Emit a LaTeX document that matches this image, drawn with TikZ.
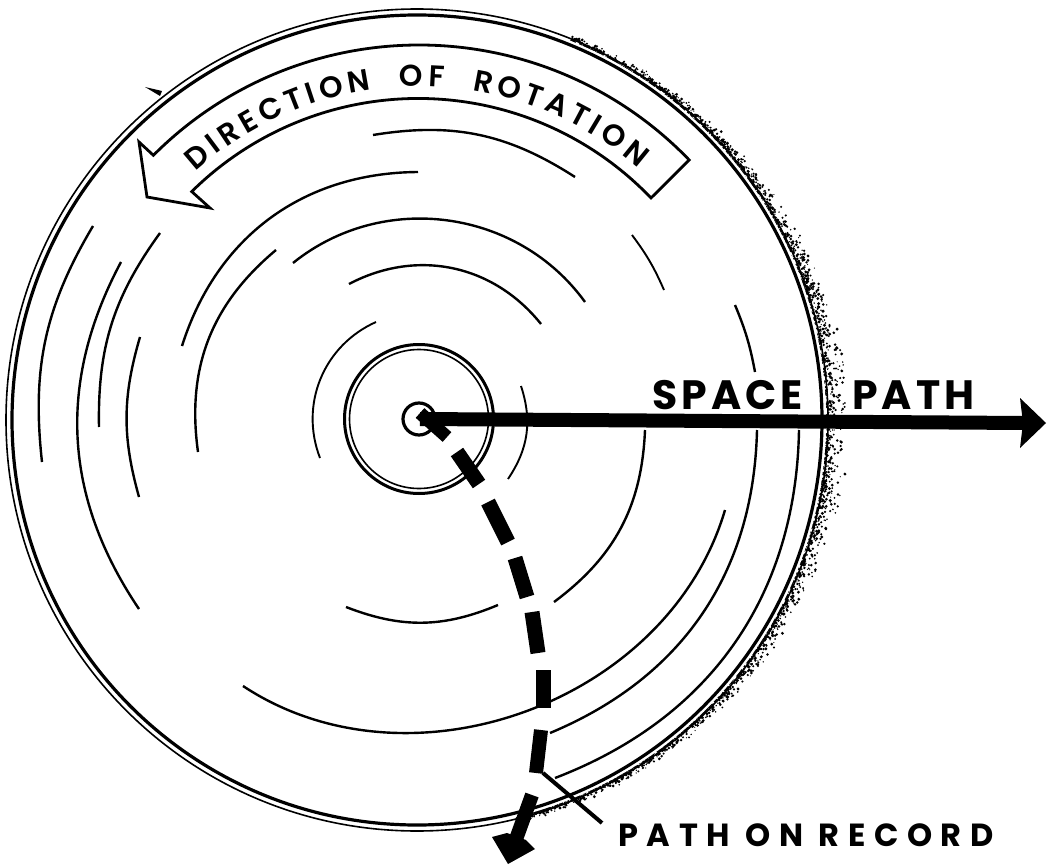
\documentclass[tikz,border=0pt]{standalone}
\usepackage{fontspec}
\setmainfont{Poppins}
\newfontfamily\bandfont{Poppins SemiBold}
\newfontfamily\capfont[LetterSpace=10]{Poppins}
\newfontfamily\recfont[LetterSpace=27]{Poppins}
\usetikzlibrary{decorations.text}
\tikzset{
  x=1pt,y=1pt,
  groove/.style={line width=2.4pt,black},
  grooveb/.style={line width=1.9pt,black},
  dashpiece/.style={line width=15pt,black},
  outline/.style={line width=3pt,black,line join=miter},
  label/.style={inner sep=0pt,anchor=base west,black},
}
\newcommand{\grv}[6][groove]{\draw[#1] (#2,-#3) to[bend left=#6] (#4,-#5);}
\begin{document}
\begin{tikzpicture}
\useasboundingbox (0,0) rectangle (1048,-866);
\fill[white] (0,0) rectangle (1048,-866);

% rough shadow on the right rim
\pgfmathsetseed{7}
\begin{scope}[shift={(417,-420)}]
\foreach \i in {1,...,2600}{
  \pgfmathsetmacro{\a}{rand*72-4}
  \pgfmathsetmacro{\t}{7+17*exp(-(\a/38)*(\a/38))}
  \pgfmathsetmacro{\rr}{409+\t*rnd*rnd}
  \pgfmathsetmacro{\ds}{0.6+1.0*rnd}
  \fill[black] (\a:\rr) circle (\ds);
}
\end{scope}
\fill[white] (417,-420) circle (409);

% rim
\draw[line width=1.6pt] (417,-420) circle (411);
\draw[line width=3.2pt] (417,-420) circle (405);

% small mark on rim
\fill (145,-87) -- (162,-91) -- (160,-96) -- cycle;

% direction band
\draw[outline,line width=2.8pt]
  (419,-420) ++(135.1:375)
  arc (135.1:43.9:375) -- (651,-198)
  arc (43.7:134.7:322) -- (210,-208) -- (147,-197) -- (139,-142) -- cycle;
\path[postaction={decorate},decoration={text along path,
  text={|\bandfont\fontsize{30}{30}\selectfont|DIRECTION {\ }OF {\ }ROTATION},
  text align={fit to path}}]
  (419,-420) ++(132:334) arc (132:49:334);

% grooves
\grv{42}{462}{93}{226}{18.5}
\grv{139}{609}{121}{262}{31}
\grv{99}{427}{160}{233}{18.5}
\grv{139}{497}{140}{337}{16}
\grv{182}{346}{418}{172}{36}
\grv{198}{452}{276}{250}{29}
\grv[grooveb]{320}{458}{376}{322}{43.5}
\grv[grooveb]{521}{386}{508}{479}{26}
\grv{498}{605}{346}{607}{22}
\grv{293}{263}{585}{302}{46.5}
\grv{349}{284}{541}{324}{39.5}
\grv{373}{135}{575}{177}{21}
\grv[grooveb]{632}{235}{664}{290}{6.5}
\grv{735}{305}{755}{372}{6}
\grv{645}{430}{554}{602}{25.5}
\grv{725}{510}{243}{686}{53.5}
\grv{757}{430}{550}{733}{33}
\grv{799}{430}{555}{778}{34}

% hub
\draw[line width=3pt] (419,-419) circle (74.5);
\draw[line width=1.6pt] (419,-419) circle (69.5);
\draw[line width=3.2pt] (419,-419) circle (16);

% space path arrow
\draw[line width=14pt] (420,-419) -- (1025,-423);
\fill (1020,-398) -- (1046,-423) -- (1020,-448) -- (1023,-423) -- cycle;
\node[label] (spacepath) at (652,-409) {\capfont\bfseries\fontsize{41}{41}\selectfont SPACE\hspace{49pt}PATH};

% path on record, dashed
\draw[dashpiece,line width=13pt] (420,-413) -- (447,-437);
\draw[dashpiece] (457,-452) -- (479,-484);
\draw[dashpiece] (488,-502) -- (508,-542);
\draw[dashpiece] (515,-558) -- (527,-597);
\draw[dashpiece] (532,-612) -- (538,-653);
\draw[dashpiece] (543,-670) -- (543,-708);
\draw[dashpiece,line width=14pt] (541,-730) -- (536,-773);
\draw[dashpiece,line width=14pt] (532,-795) -- (515,-842);
\fill (492,-837) -- (508,-864) -- (535,-849) -- (526,-840) -- (507,-833) -- cycle;

% leader
\coordinate (leadstart) at (543,-773);
\coordinate (leadend) at (602,-823);
\draw[line width=4pt] (leadstart) -- (leadend);
\node[label] (pathrecord) at (618,-846) {\recfont\bfseries\fontsize{32}{32}\selectfont PATH ON RECORD};
\end{tikzpicture}
\end{document}
